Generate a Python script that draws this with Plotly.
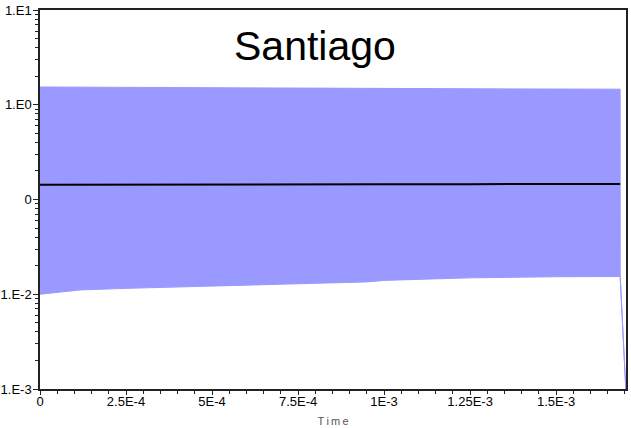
import plotly.graph_objects as go

# ---- data ----
time = [0, 1.16e-4, 2.5e-4, 5.0e-4, 7.5e-4, 9.5e-4, 1.0e-3, 1.25e-3, 1.5e-3, 1.686e-3, 1.6862e-3, 1.703e-3]
upper = [1.54, 1.53, 1.52, 1.51, 1.50, 1.49, 1.485, 1.475, 1.465, 1.46, 0.0155, 0.0009]
lower = [0.0100, 0.0111, 0.01154, 0.0123, 0.0129, 0.0135, 0.0140, 0.0149, 0.0153, 0.0154, 0.0155, 0.0009]
median = [0.143, 0.1435, 0.144, 0.1443, 0.1446, 0.1448, 0.1449, 0.1452, 0.1455, 0.1457, None, None]

x_tickvals = [0, 2.5e-4, 5e-4, 7.5e-4, 1e-3, 1.25e-3, 1.5e-3]
x_ticktext = ["0", "2.5E-4", "5E-4", "7.5E-4", "1E-3", "1.25E-3", "1.5E-3"]
y_tickvals = [1e-3, 1e-2, 1e-1, 1, 10]
y_ticktext = ["1.E-3", "1.E-2", "0", "1.E0", "1.E1"]
title_text = "Santiago"
x_title = "T\u2009i\u2009m\u2009e"

band_color = "#9999ff"

y_minor = [m * 10 ** e for e in range(-3, 1) for m in range(2, 10)]

fig = go.Figure()
fig.add_trace(go.Scatter(
    x=time + time[::-1], y=upper + lower[::-1],
    fill="toself", fillcolor=band_color,
    line=dict(color=band_color, width=1),
    mode="lines", hoverinfo="skip", showlegend=False,
))
fig.add_trace(go.Scatter(
    x=time, y=median, mode="lines",
    line=dict(color="black", width=2),
    showlegend=False,
))

axis_font = dict(family="Liberation Sans, Arial, sans-serif", size=13, color="black")

fig.update_layout(
    width=631, height=428,
    margin=dict(l=40, r=5, t=10, b=39),
    paper_bgcolor="white", plot_bgcolor="white",
    font=axis_font,
    xaxis=dict(
        range=[0, 1.703e-3], automargin=False,
        tickmode="array", tickvals=x_tickvals, ticktext=x_ticktext,
        ticks="outside", ticklen=4, tickwidth=1, tickcolor="#222",
        minor=dict(dtick=5e-5, tick0=0, ticks="outside", ticklen=3, tickcolor="#222", showgrid=False),
        showline=True, linecolor="#222", linewidth=1.5, mirror=True,
        showgrid=False, zeroline=False,
        tickfont=axis_font, ticklabelstandoff=-4,
        title=dict(text=x_title, font=dict(family="Liberation Sans, Arial, sans-serif", size=11, color="#555"), standoff=9),
    ),
    yaxis=dict(
        type="log", range=[-3, 1], automargin=False,
        tickmode="array", tickvals=y_tickvals, ticktext=y_ticktext,
        ticks="outside", ticklen=5, tickwidth=1, tickcolor="#222",
        minor=dict(tickvals=y_minor, ticks="outside", ticklen=3, tickcolor="#222", showgrid=False),
        showline=True, linecolor="#222", linewidth=1.5, mirror=True,
        showgrid=False, zeroline=False,
        tickfont=axis_font, ticklabelstandoff=-1,
    ),
    annotations=[dict(
        text=title_text, xref="paper", yref="paper",
        x=0.470, y=0.905, xanchor="center", yanchor="middle",
        showarrow=False,
        font=dict(family="Liberation Sans, Arial, sans-serif", size=41, color="black"),
    )],
)

fig.write_html("out.html")
